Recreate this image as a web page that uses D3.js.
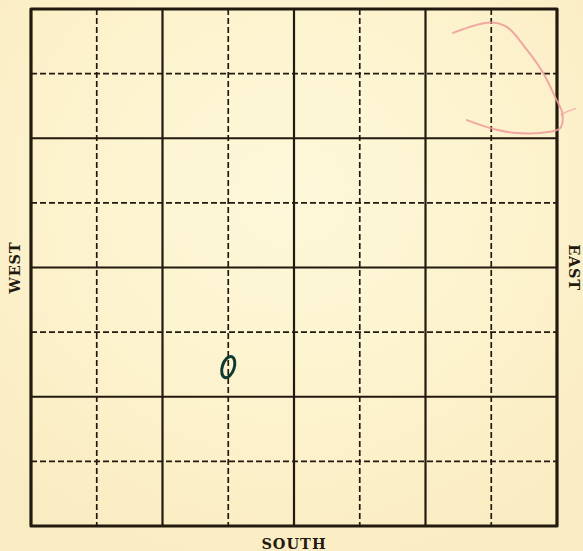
<!DOCTYPE html>
<html>
<head>
<meta charset="utf-8">
<script src="https://cdn.jsdelivr.net/npm/d3@7"></script>
<style>
  body { margin: 0; background: #fbefc6; }
  svg { display: block; }
</style>
</head>
<body>
<script>
// grid in cells, 8 x 8; solid every 2 cells, dashed in between
var gridLines = [1, 2, 3, 4, 5, 6, 7];
var majorLines = [2, 4, 6];
var sideLabels = ["WEST", "EAST", "SOUTH"];

// the green pencilled ring (grid units)
var ring = {x: 3.0, y: 2.46, rx: 0.09, ry: 0.17, tilt: 18};

// red crayon scribble, top right (grid units)
var scribble = [
  [6.42, 7.63], [6.98, 7.79], [7.24, 7.72], [7.54, 7.37], [7.79, 7.01],
  [7.97, 6.64], [8.08, 6.39], [8.05, 6.16], [7.89, 6.10], [7.39, 6.08],
  [6.98, 6.16], [6.63, 6.28]
];
var scribbleTail = [[8.06, 6.36], [8.17, 6.42], [8.28, 6.46]];

var width = 583, height = 551;
var x = d3.scaleLinear().domain([0, 8]).range([31, 557]);
var y = d3.scaleLinear().domain([0, 8]).range([526, 9]);

var svg = d3.select("body").append("svg")
    .attr("width", width)
    .attr("height", height);

var defs = svg.append("defs");
var grad = defs.append("radialGradient")
    .attr("id", "paper")
    .attr("cx", "50%").attr("cy", "35%").attr("r", "70%");
grad.append("stop").attr("offset", "0%").attr("stop-color", "#fef8da");
grad.append("stop").attr("offset", "60%").attr("stop-color", "#fcf2cc");
grad.append("stop").attr("offset", "100%").attr("stop-color", "#faecc2");

svg.append("rect")
    .attr("width", width).attr("height", height)
    .attr("fill", "url(#paper)");

var ink = "#22190f";

// dashed minor lines
var minor = gridLines.filter(function(d){ return majorLines.indexOf(d) < 0; });
svg.selectAll(".vdash").data(minor).enter().append("line")
    .attr("x1", function(d){ return x(d); })
    .attr("x2", function(d){ return x(d); })
    .attr("y1", y(8)).attr("y2", y(0))
    .attr("stroke", ink).attr("stroke-width", 1.7)
    .attr("stroke-dasharray", "6,3");
svg.selectAll(".hdash").data(minor).enter().append("line")
    .attr("y1", function(d){ return y(d); })
    .attr("y2", function(d){ return y(d); })
    .attr("x1", x(0)).attr("x2", x(8))
    .attr("stroke", ink).attr("stroke-width", 1.7)
    .attr("stroke-dasharray", "6,3");

// solid major lines
svg.selectAll(".vmaj").data(majorLines).enter().append("line")
    .attr("x1", function(d){ return x(d); })
    .attr("x2", function(d){ return x(d); })
    .attr("y1", y(8)).attr("y2", y(0))
    .attr("stroke", ink).attr("stroke-width", 2.2);
svg.selectAll(".hmaj").data(majorLines).enter().append("line")
    .attr("y1", function(d){ return y(d); })
    .attr("y2", function(d){ return y(d); })
    .attr("x1", x(0)).attr("x2", x(8))
    .attr("stroke", ink).attr("stroke-width", 2.2);

// outer frame
svg.append("rect")
    .attr("x", x(0)).attr("y", y(8))
    .attr("width", x(8) - x(0)).attr("height", y(0) - y(8))
    .attr("fill", "none")
    .attr("stroke", ink).attr("stroke-width", 3.2)
    .attr("stroke-linejoin", "round");

// labels
var font = "'DejaVu Serif', 'Liberation Serif', serif";
svg.append("text")
    .attr("transform", "translate(20," + y(4) + ") rotate(-90)")
    .attr("text-anchor", "middle")
    .attr("font-family", font).attr("font-weight", "bold")
    .attr("font-size", 14.5).attr("letter-spacing", 0.8).attr("fill", ink)
    .text(sideLabels[0]);
svg.append("text")
    .attr("transform", "translate(569," + y(4) + ") rotate(90)")
    .attr("text-anchor", "middle")
    .attr("font-family", font).attr("font-weight", "bold")
    .attr("font-size", 14.5).attr("letter-spacing", 0.8).attr("fill", ink)
    .text(sideLabels[1]);
svg.append("text")
    .attr("x", x(4)).attr("y", 549)
    .attr("text-anchor", "middle")
    .attr("font-family", font).attr("font-weight", "bold")
    .attr("font-size", 14.5).attr("letter-spacing", 1).attr("fill", ink)
    .text(sideLabels[2]);

// green ring
svg.append("ellipse")
    .attr("cx", x(ring.x)).attr("cy", y(ring.y))
    .attr("rx", x(ring.rx) - x(0))
    .attr("ry", y(0) - y(ring.ry))
    .attr("transform", "rotate(" + ring.tilt + "," + x(ring.x) + "," + y(ring.y) + ")")
    .attr("fill", "none")
    .attr("stroke", "#0f3a33").attr("stroke-width", 3);

// red scribble
var line = d3.line()
    .x(function(d){ return x(d[0]); })
    .y(function(d){ return y(d[1]); })
    .curve(d3.curveCatmullRom);
svg.append("path")
    .attr("d", line(scribble))
    .attr("fill", "none")
    .attr("stroke", "#ef9a9a").attr("stroke-width", 2)
    .attr("stroke-linecap", "round")
    .attr("opacity", 0.85);
svg.append("path")
    .attr("d", line(scribbleTail))
    .attr("fill", "none")
    .attr("stroke", "#ef9a9a").attr("stroke-width", 1.3)
    .attr("stroke-linecap", "round")
    .attr("opacity", 0.7);
</script>
</body>
</html>
